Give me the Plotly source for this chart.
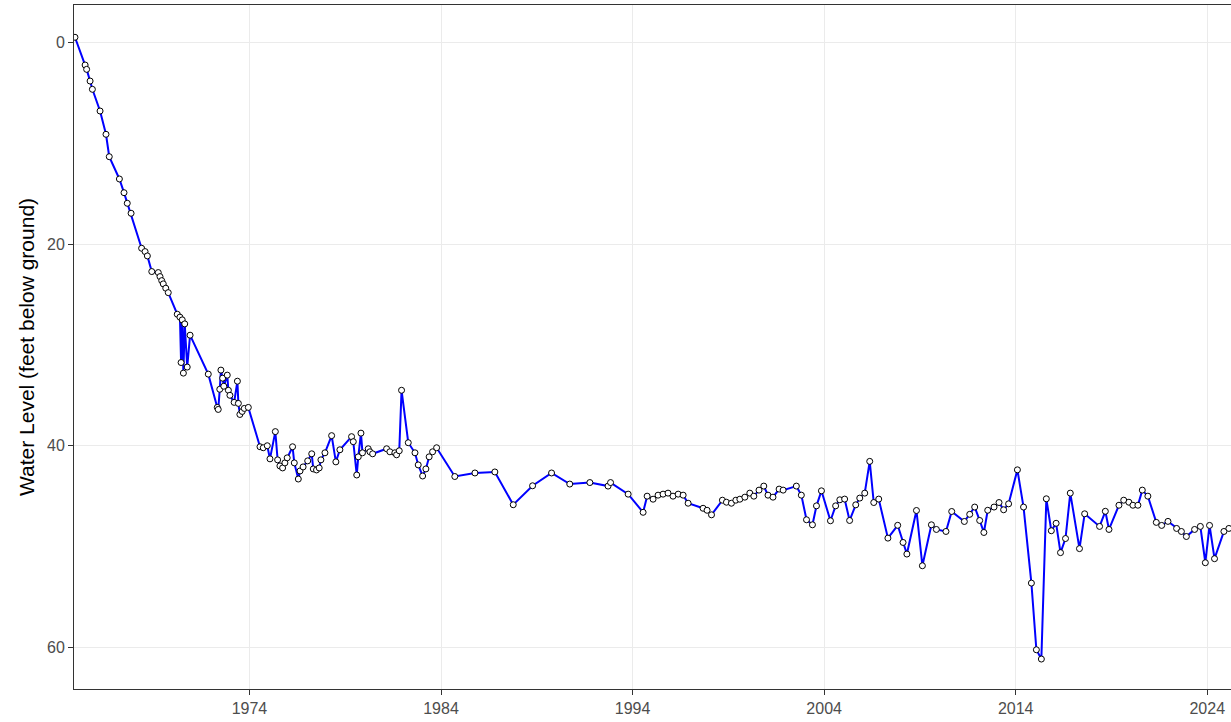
import plotly.graph_objects as go

# Measurement dates (decimal years) and depth to water (feet below ground)
years = [
    1964.89, 1965.42, 1965.50, 1965.68, 1965.80, 1966.20, 1966.51, 1966.68,
    1967.21, 1967.45, 1967.62, 1967.82, 1968.37, 1968.55, 1968.67, 1968.90,
    1969.24, 1969.33, 1969.42, 1969.50, 1969.63, 1969.76,
    1970.23, 1970.37, 1970.43, 1970.49, 1970.55, 1970.62, 1970.75, 1970.90,
    1971.85, 1972.32, 1972.37, 1972.45, 1972.51, 1972.60, 1972.66, 1972.84,
    1972.90, 1972.98, 1973.20, 1973.37, 1973.42, 1973.50, 1973.62, 1973.73,
    1973.94,
    1974.55, 1974.72, 1974.93, 1975.07, 1975.35, 1975.47, 1975.59, 1975.73,
    1975.85, 1975.97, 1976.25, 1976.34, 1976.55, 1976.64, 1976.80, 1977.04,
    1977.25, 1977.33, 1977.50, 1977.64, 1977.73, 1977.94, 1978.29, 1978.51,
    1978.72, 1979.33, 1979.42, 1979.60, 1979.68, 1979.82, 1979.90, 1980.20,
    1980.29, 1980.43, 1981.16, 1981.33, 1981.59, 1981.68, 1981.82, 1981.94,
    1982.29, 1982.64, 1982.81, 1983.04, 1983.21, 1983.38, 1983.56, 1983.77,
    1984.72, 1985.77, 1986.81, 1987.77, 1988.78, 1989.77, 1990.72, 1991.77,
    1992.72, 1992.85, 1993.77, 1994.55, 1994.76, 1995.07, 1995.33, 1995.59,
    1995.85, 1996.11, 1996.38, 1996.64, 1996.90, 1997.68, 1997.89, 1998.12,
    1998.69, 1998.90, 1999.16, 1999.39, 1999.60, 1999.86, 2000.12, 2000.33,
    2000.60, 2000.85, 2001.07, 2001.33, 2001.65, 2001.86, 2002.55, 2002.81,
    2003.08, 2003.39, 2003.60, 2003.86, 2004.33, 2004.60, 2004.82, 2005.07,
    2005.33, 2005.65, 2005.86, 2006.12, 2006.38, 2006.59, 2006.85, 2007.33,
    2007.84, 2008.12, 2008.32, 2008.82, 2009.13, 2009.60, 2009.86, 2010.36,
    2010.66, 2011.32, 2011.60, 2011.86, 2012.12, 2012.34, 2012.54, 2012.87,
    2013.13, 2013.37, 2013.63, 2014.09, 2014.41, 2014.82, 2015.08, 2015.34,
    2015.60, 2015.86, 2016.11, 2016.34, 2016.60, 2016.85, 2017.33, 2017.60,
    2018.38, 2018.68, 2018.87, 2019.39, 2019.64, 2019.91, 2020.12, 2020.38,
    2020.61, 2020.90, 2021.34, 2021.62, 2021.95, 2022.40, 2022.65, 2022.91,
    2023.34, 2023.64, 2023.90, 2024.12, 2024.38, 2024.87, 2025.13,
]

depth_ft = [
    -0.5, 2.25, 2.68, 3.84, 4.66, 6.81, 9.12, 11.34,
    13.55, 14.91, 15.96, 16.95, 20.42, 20.75, 21.18, 22.73,
    22.83, 23.23, 23.63, 23.95, 24.38, 24.82,
    26.96, 27.25, 31.75, 27.52, 32.80, 27.92, 32.20, 29.04,
    32.90, 36.20, 36.40, 34.40, 32.50, 33.30, 34.10, 33.00,
    34.50, 35.00, 35.70, 33.60, 35.80, 36.90, 36.60, 36.30,
    36.20,
    40.10, 40.20, 40.00, 41.30, 38.60, 41.40, 42.00, 42.20,
    41.70, 41.20, 40.10, 41.70, 43.30, 42.50, 42.10, 41.50,
    40.80, 42.30, 42.40, 42.20, 41.40, 40.70, 39.00, 41.60,
    40.40, 39.10, 39.60, 42.90, 41.10, 38.75, 40.70, 40.30,
    40.60, 40.80, 40.30, 40.60, 40.70, 40.90, 40.50, 34.50,
    39.70, 40.70, 41.90, 43.00, 42.30, 41.10, 40.60, 40.20,
    43.05, 42.70, 42.60, 45.85, 43.97, 42.70, 43.80, 43.65,
    44.00, 43.65, 44.80, 46.60, 45.00, 45.30, 44.90, 44.80,
    44.70, 45.00, 44.80, 44.90, 45.70, 46.20, 46.40, 46.85,
    45.40, 45.60, 45.70, 45.40, 45.30, 45.10, 44.70, 45.00,
    44.40, 44.00, 44.90, 45.10, 44.30, 44.40, 44.00, 44.90,
    47.34, 47.84, 45.96, 44.47, 47.44, 45.96, 45.36, 45.29,
    47.41, 45.86, 45.19, 44.70, 41.55, 45.63, 45.29, 49.16,
    47.89, 49.59, 50.74, 46.42, 51.90, 47.84, 48.30, 48.50,
    46.52, 47.51, 46.80, 46.08, 47.41, 48.60, 46.40, 46.08,
    45.63, 46.35, 45.76, 42.39, 46.08, 53.62, 60.23, 61.15,
    45.26, 48.43, 47.69, 50.60, 49.20, 44.70, 50.20, 46.75,
    48.00, 46.50, 48.30, 45.90, 45.40, 45.60, 45.90, 45.90,
    44.40, 45.00, 47.60, 47.90, 47.50, 48.20, 48.50, 49.00,
    48.30, 48.00, 51.60, 47.90, 51.20, 48.50, 48.20,
]

year_ticks = [1974, 1984, 1994, 2004, 2014, 2024]
depth_ticks = [0, 20, 40, 60]

fig = go.Figure()
fig.add_trace(go.Scatter(
    x=years,
    y=depth_ft,
    mode="lines+markers",
    line=dict(color="#0000FF", width=2),
    marker=dict(size=6, color="white", line=dict(color="black", width=1)),
    showlegend=False,
    hoverinfo="x+y",
))

grid = "#ebebeb"
border = "#333333"
tick_font = dict(family="Liberation Sans, Arial, sans-serif", size=16, color="#4d4d4d")

fig.update_layout(
    width=1231,
    height=722,
    margin=dict(l=74, r=0, t=5, b=33),
    paper_bgcolor="white",
    plot_bgcolor="white",
    xaxis=dict(
        range=[1964.84, 2025.24],
        tickvals=year_ticks,
        ticktext=[str(v) for v in year_ticks],
        tickfont=tick_font,
        ticks="outside",
        ticklen=5,
        tickwidth=1,
        tickcolor=border,
        showgrid=True,
        gridcolor=grid,
        gridwidth=1,
        zeroline=False,
        showline=True,
        linecolor=border,
        linewidth=1,
        mirror=True,
    ),
    yaxis=dict(
        range=[64.12, -3.70],
        tickvals=depth_ticks,
        ticktext=[str(v) for v in depth_ticks],
        tickfont=tick_font,
        ticks="outside",
        ticklen=5,
        tickwidth=1,
        tickcolor=border,
        showgrid=True,
        gridcolor=grid,
        gridwidth=1,
        zeroline=False,
        showline=True,
        linecolor=border,
        linewidth=1,
        mirror=False,
    ),
    annotations=[dict(
        text="Water Level (feet below ground)",
        xref="paper", yref="paper",
        x=-0.0415, y=0.5,
        xanchor="center", yanchor="middle",
        textangle=-90,
        showarrow=False,
        font=dict(family="Liberation Sans, Arial, sans-serif", size=21, color="black"),
    )],
)

fig.write_html("out.html")
